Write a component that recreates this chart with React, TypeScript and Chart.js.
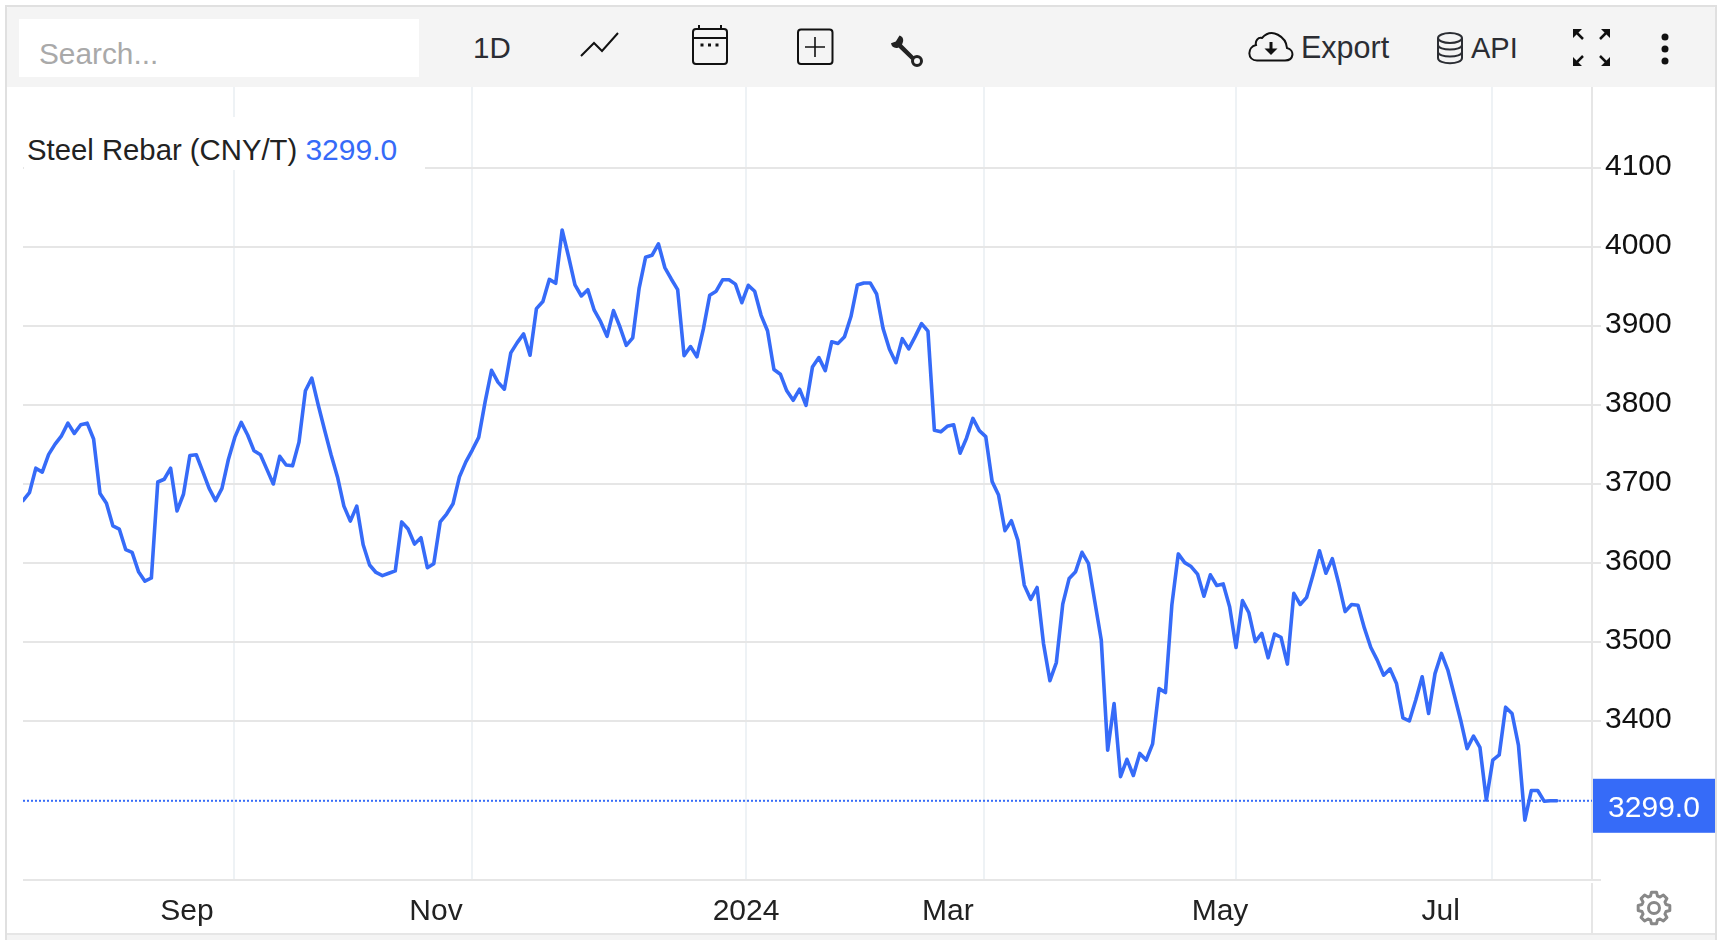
import React, { useEffect, useRef } from "react";
import { Chart, registerables } from "chart.js";

Chart.register(...registerables);

const closes = [
  3679, 3689, 3720, 3715, 3737.5, 3750.5, 3761, 3777, 3764, 3775, 3777, 3757,
  3688, 3675.5, 3647, 3643, 3617, 3613.5, 3589, 3577, 3581, 3702.5, 3706, 3720,
  3666, 3687, 3736, 3737, 3716, 3694.5, 3679, 3694.5, 3731, 3759, 3778, 3762,
  3742, 3737, 3718.5, 3700, 3735, 3724, 3723, 3753, 3818, 3834, 3800, 3768,
  3737, 3709, 3672, 3653, 3672, 3623, 3597.5, 3588, 3584, 3587, 3590, 3652,
  3643, 3624, 3632, 3594, 3599, 3652, 3662, 3675, 3709, 3728, 3743, 3759,
  3804, 3844, 3829, 3820, 3866, 3879, 3890, 3863, 3922, 3931, 3959, 3954,
  4021.5, 3988, 3952, 3938, 3946, 3920, 3905.5, 3887, 3919.5, 3899, 3875.5, 3885,
  3948, 3987, 3989.5, 4004, 3974, 3959.5, 3946, 3862.5, 3874, 3861, 3896, 3939,
  3944, 3958.5, 3958.5, 3953, 3929.5, 3951.5, 3944, 3913.5, 3894, 3845, 3839, 3818,
  3806, 3820, 3799.5, 3848, 3860, 3843.5, 3880, 3878, 3886.5, 3912, 3952, 3954.5,
  3954.5, 3940.5, 3897, 3870.5, 3853.5, 3884, 3871, 3886.5, 3903, 3893.5, 3768, 3766,
  3773, 3775, 3739, 3758, 3783, 3767.5, 3760, 3703, 3686, 3641, 3653.5, 3629,
  3572, 3554, 3569, 3498, 3451, 3474, 3548, 3580.5, 3589, 3613.5, 3599.5, 3551,
  3502.5, 3363, 3422, 3329.5, 3351.5, 3331, 3359, 3350.5, 3371, 3441, 3436, 3547,
  3611.5, 3600.5, 3595.5, 3586, 3558, 3585, 3571.5, 3573.5, 3544.5, 3493, 3552.5, 3537,
  3500.5, 3511, 3480, 3510, 3506, 3472, 3561.5, 3547.5, 3556.5, 3585, 3615.5, 3587,
  3605.5, 3574, 3538.5, 3547.5, 3546.5, 3517.5, 3493, 3477, 3458, 3466, 3447.5, 3404,
  3400, 3426.5, 3456, 3409.5, 3460, 3485.5, 3464.5, 3433, 3401, 3365, 3381, 3366.5,
  3300, 3350.5, 3357, 3417.5, 3409.5, 3369.5, 3274.5, 3312, 3312, 3298.5, 3299, 3299,
];

const lastPrice = 3299;
const lastPriceText = "3299.0";
const seriesName = "Steel Rebar (CNY/T)";
const yTickValues = [3400, 3500, 3600, 3700, 3800, 3900, 4000, 4100];
const yMin = 3198.73;
const yMax = 4202.53;
const xMax = 244.46;
const monthGridAt = [32.9, 70, 112.65, 149.7, 189, 228.9];
const xLabelNames = ["Sep", "Nov", "2024", "Mar", "May", "Jul"];
const xLabelAt = [25.55, 64.35, 112.65, 144.1, 186.5, 220.9];

const BLUE = "#366bf8";
const GRID = "#e6e6e6";
const VGRID = "#eef2f5";
const FONT = '"Liberation Sans", Arial, sans-serif';

function gearPath(cx: number, cy: number, ro: number, ri: number, teeth: number) {
  const pts: string[] = [];
  const step = (Math.PI * 2) / teeth;
  for (let i = 0; i < teeth; i++) {
    const a = i * step - Math.PI / 2;
    const w = step * 0.2;
    const list: [number, number][] = [
      [ri, a - step * 0.36],
      [ro, a - w],
      [ro, a + w],
      [ri, a + step * 0.36],
    ];
    list.forEach(([r, t]) => pts.push(`${(cx + r * Math.cos(t)).toFixed(2)} ${(cy + r * Math.sin(t)).toFixed(2)}`));
  }
  return "M" + pts.join(" L") + " Z";
}

const priceTag = {
  id: "priceTag",
  afterDraw(chart: any) {
    const { ctx, scales } = chart;
    const y = scales.y.getPixelForValue(lastPrice);
    ctx.save();
    ctx.fillStyle = BLUE;
    ctx.fillRect(1593, y - 22, 122, 54);
    ctx.fillStyle = "#ffffff";
    ctx.font = `30px ${FONT}`;
    ctx.textAlign = "center";
    ctx.textBaseline = "middle";
    ctx.fillText(lastPriceText, 1654, y + 8);
    ctx.restore();
  },
};

function Txt(props: { x: number; base: number; size: number; color: string; children: React.ReactNode }) {
  const { x, base, size, color, children } = props;
  return (
    <div
      style={{
        position: "absolute",
        left: x,
        top: base - size * 0.8465,
        fontFamily: FONT,
        fontSize: size,
        lineHeight: 1,
        color,
        whiteSpace: "nowrap",
      }}
    >
      {children}
    </div>
  );
}

function Box(props: { x: number; y: number; w: number; h: number; c: string; r?: string }) {
  return (
    <div
      style={{
        position: "absolute",
        left: props.x,
        top: props.y,
        width: props.w,
        height: props.h,
        background: props.c,
        borderRadius: props.r,
      }}
    />
  );
}

export default function App() {
  const ref = useRef<HTMLCanvasElement | null>(null);

  useEffect(() => {
    if (!ref.current) return;
    const chart = new Chart(ref.current, {
      type: "line",
      data: {
        datasets: [
          {
            label: "Last price",
            data: [
              { x: 0, y: lastPrice },
              { x: xMax, y: lastPrice },
            ],
            borderColor: BLUE,
            borderWidth: 2,
            borderDash: [2, 2],
            pointRadius: 0,
            tension: 0,
            order: 2,
            xAxisID: "x",
            yAxisID: "y",
          },
          {
            label: seriesName,
            data: closes.map((v, i) => ({ x: i, y: v })),
            borderColor: BLUE,
            borderWidth: 3.6,
            borderJoinStyle: "round",
            borderCapStyle: "round",
            pointRadius: 0,
            tension: 0,
            order: 1,
            xAxisID: "x",
            yAxisID: "y",
          },
        ],
      },
      options: {
        responsive: false,
        animation: false,
        parsing: false as any,
        normalized: true,
        events: [],
        layout: { padding: { left: 23, top: 87, right: 0, bottom: 0 } },
        plugins: { legend: { display: false }, tooltip: { enabled: false }, title: { display: false } },
        scales: {
          x: {
            type: "linear",
            position: "bottom",
            min: 0,
            max: xMax,
            afterBuildTicks: (s: any) => {
              s.ticks = monthGridAt.map((value) => ({ value }));
            },
            afterFit: (s: any) => {
              s.height = 0;
            },
            grid: { color: VGRID, lineWidth: 2, drawTicks: false },
            border: { display: false },
            ticks: { display: false },
          },
          x2: {
            type: "linear",
            position: "bottom",
            min: 0,
            max: xMax,
            afterBuildTicks: (s: any) => {
              s.ticks = xLabelAt.map((value) => ({ value }));
            },
            afterFit: (s: any) => {
              s.height = 60;
            },
            grid: { display: false },
            border: { display: false },
            ticks: {
              autoSkip: false,
              maxRotation: 0,
              minRotation: 0,
              padding: 6,
              color: "#222222",
              font: { family: FONT, size: 30 },
              callback: (_v: any, i: number) => xLabelNames[i],
            },
          },
          y: {
            type: "linear",
            position: "right",
            min: yMin,
            max: yMax,
            afterBuildTicks: (s: any) => {
              s.ticks = [yMin, ...yTickValues].map((value) => ({ value }));
            },
            afterFit: (s: any) => {
              s.width = 130;
            },
            grid: { color: GRID, lineWidth: 2, tickLength: 9, tickColor: GRID, drawTicks: true },
            border: { display: true, color: GRID, width: 2 },
            ticks: {
              autoSkip: false,
              padding: 4,
              labelOffset: -1,
              color: "#111111",
              font: { family: FONT, size: 30 },
              callback: (v: any) => (v === yMin ? "" : String(v)),
            },
          },
        },
      },
      plugins: [priceTag],
    } as any);
    return () => chart.destroy();
  }, []);

  const ink = "#111111";
  const ink2 = "#2b2d33";

  return (
    <div style={{ position: "absolute", left: 0, top: 0, width: 1722, height: 940, overflow: "hidden", background: "#fff" }}>
      <canvas ref={ref} width={1722} height={940} style={{ display: "block", position: "absolute", left: 0, top: 0 }} />

      {/* toolbar */}
      <Box x={6} y={6} w={1710} h={81} c="#f4f4f4" r="5px 5px 0 0" />
      <Box x={19} y={19} w={400} h={58} c="#ffffff" />
      <Txt x={39} base={64.5} size={29.8} color="#a9a9a9">Search...</Txt>
      <Txt x={473} base={58} size={29.5} color={ink2}>1D</Txt>
      <Txt x={1301} base={58.3} size={30.5} color={ink2}>Export</Txt>
      <Txt x={1471} base={58.3} size={29} color={ink2}>API</Txt>

      {/* frame */}
      <Box x={5} y={5} w={2} h={935} c="#e0e0e0" />
      <Box x={1715} y={5} w={2} h={935} c="#e0e0e0" />
      <Box x={5} y={5} w={1712} h={2} c="#e0e0e0" r="4px 4px 0 0" />

      {/* footer */}
      <Box x={1591} y={883} w={2} h={50} c={GRID} />
      <Box x={7} y={933} w={1708} h={2} c={GRID} />
      <Box x={7} y={935} w={1708} h={5} c="#f4f4f4" />

      {/* series title */}
      <Box x={24} y={117} w={401} h={53} c="#ffffff" />
      <Txt x={27} base={160} size={29.3} color="#222222">
        {seriesName} <span style={{ color: BLUE, fontSize: 30 }}>{lastPriceText}</span>
      </Txt>

      <svg width={1722} height={940} style={{ position: "absolute", left: 0, top: 0, pointerEvents: "none" }}>
        {/* chart type */}
        <polyline points="581,56 594,43 602,51 618,33" fill="none" stroke={ink} strokeWidth={2} />
        {/* calendar */}
        <rect x={693} y={29} width={34} height={35} rx={3} fill="none" stroke={ink} strokeWidth={2} />
        <path d="M693 38 H727 M699 25 V29 M721 25 V29" stroke={ink} strokeWidth={2} fill="none" />
        <path d="M700.5 43.5 h3 v3 h-3 Z M708 43.5 h3 v3 h-3 Z M715.5 43.5 h3 v3 h-3 Z" fill={ink} />
        {/* add */}
        <rect x={798} y={29.5} width={34.5} height={34.5} rx={3} fill="none" stroke={ink} strokeWidth={2} />
        <path d="M805 47 H825 M815 37 V57" stroke={ink} strokeWidth={1.6} fill="none" />
        {/* wrench */}
        <path
          d="M899.5 35.5 L895.8 41.5 L891 43.3 C891.5 47 895 49 898.5 47.5 L911.5 60 L914.5 57 L902 44.5 C904.5 40 903 36.5 899.5 35.5 Z"
          fill="#222"
        />
        <circle cx={917} cy={61} r={4.5} fill="none" stroke="#222" strokeWidth={3} />
        {/* cloud */}
        <path
          d="M1257 60.5 H1285 C1294 60.5 1295 50 1287 48 C1286 37 1272 27 1262 38 C1258 37 1255 41 1256 45 C1247 47 1247 60.5 1257 60.5 Z"
          fill="none"
          stroke={ink}
          strokeWidth={2}
        />
        <path d="M1271 42 V50" stroke={ink} strokeWidth={3} />
        <path d="M1264.5 48.5 H1277.5 L1271 55 Z" fill={ink} />
        {/* database */}
        <ellipse cx={1450} cy={38} rx={12} ry={5} fill="none" stroke={ink2} strokeWidth={2} />
        <path
          d="M1438 38 V58 C1438 65 1462 65 1462 58 V38 M1438 45 C1438 51 1462 51 1462 45 M1438 52 C1438 58 1462 58 1462 52"
          fill="none"
          stroke={ink2}
          strokeWidth={2}
        />
        {/* fullscreen */}
        <path d="M1573 29 H1582 L1573 38 Z M1610 29 H1601 L1610 38 Z M1573 66 H1582 L1573 57 Z M1610 66 H1601 L1610 57 Z" fill={ink} />
        <path d="M1576 32 L1583 39 M1607 32 L1600 39 M1576 63 L1583 56 M1607 63 L1600 56" stroke={ink} strokeWidth={2.5} />
        {/* more */}
        <circle cx={1665} cy={37} r={3.5} fill={ink} />
        <circle cx={1665} cy={49} r={3.5} fill={ink} />
        <circle cx={1665} cy={61} r={3.5} fill={ink} />
        {/* settings */}
        <path d={gearPath(1654, 908, 16, 12.5, 8)} fill="none" stroke="#888888" strokeWidth={3} strokeLinejoin="round" />
        <circle cx={1654} cy={908} r={5.5} fill="none" stroke="#888888" strokeWidth={3} />
      </svg>
    </div>
  );
}
